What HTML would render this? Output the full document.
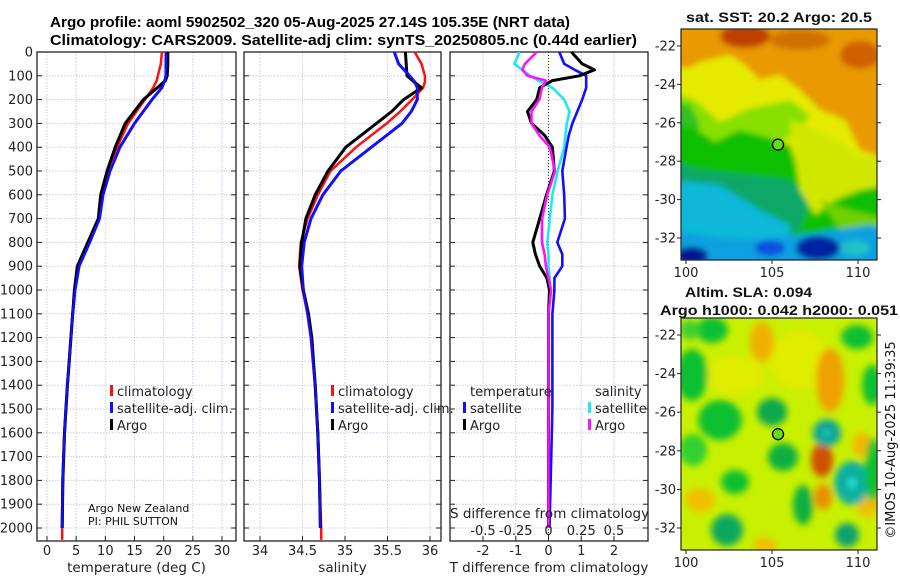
<!DOCTYPE html>
<html><head><meta charset="utf-8"><style>
html,body{margin:0;padding:0;background:#fff;width:900px;height:580px;overflow:hidden}
svg{display:block;font-family:"DejaVu Sans","Liberation Sans",sans-serif}
</style></head><body>
<svg id="fig" width="900" height="580" viewBox="0 0 900 580" xmlns="http://www.w3.org/2000/svg">
<defs>
<filter id="b3" x="-20%" y="-20%" width="140%" height="140%"><feGaussianBlur stdDeviation="3"/></filter>
<filter id="b4" x="-50%" y="-50%" width="200%" height="200%"><feGaussianBlur stdDeviation="3.5"/></filter>
<clipPath id="c1"><rect x="681" y="29" width="196" height="231"/></clipPath>
<clipPath id="c2"><rect x="681" y="318" width="196" height="232"/></clipPath>
</defs>
<g font-weight="bold" font-size="14.5" fill="#000" font-family="Liberation Sans, sans-serif">
<text x="50" y="27" textLength="520" lengthAdjust="spacingAndGlyphs">Argo profile: aoml 5902502_320 05-Aug-2025 27.14S 105.35E (NRT data)</text>
<text x="50" y="45" textLength="587" lengthAdjust="spacingAndGlyphs">Climatology: CARS2009. Satellite-adj clim: synTS_20250805.nc (0.44d earlier)</text>
</g>
<g id="panels"></g>
<g id="maps"></g>
</svg>
<script>
// ---- data ----
const depthT = [0,50,100,120,150,200,300,400,500,600,700,800,900,1000,1100,1200,1300,1400,1600,1800,2000];
const tempArgo = [20.7,20.7,20.6,20.3,18.9,16.5,13.4,11.7,10.3,9.2,8.8,7.0,5.2,4.7,4.4,4.1,3.8,3.5,3.0,2.7,2.6];
const tempClim = [19.7,19.5,19.0,18.8,18.2,16.8,13.9,12.0,10.5,9.3,8.9,7.1,5.4,4.7,4.4,4.1,3.8,3.5,3.0,2.7,2.6];
const tempSat  = [20.4,20.4,20.4,20.2,19.7,18.0,15.0,12.5,10.8,9.6,9.0,7.3,5.5,4.8,4.4,4.1,3.8,3.5,3.0,2.7,2.6];
const depthS = [0,50,100,125,150,200,250,300,400,500,600,700,800,900,1000,1100,1200,1400,1600,1800,2000];
const salArgo = [35.71,35.72,35.73,35.81,35.90,35.69,35.55,35.37,35.01,34.80,34.65,34.54,34.49,34.47,34.51,34.57,34.61,34.65,34.68,34.70,34.71];
const salClim = [35.82,35.90,35.94,35.94,35.92,35.79,35.65,35.49,35.13,34.83,34.68,34.56,34.48,34.46,34.50,34.56,34.60,34.65,34.68,34.70,34.72];
const salSat  = [35.58,35.63,35.76,35.82,35.85,35.85,35.78,35.67,35.31,34.95,34.74,34.60,34.52,34.49,34.51,34.56,34.60,34.65,34.68,34.70,34.71];
const depthD = [0,50,75,100,120,150,200,250,300,350,400,500,600,700,800,850,900,950,1000,1100,1200,1500,2000];
const dTArgo = [0.70,1.03,1.40,0.94,0.12,-0.27,-0.36,-0.64,-0.52,-0.12,0.12,0.18,-0.06,-0.27,-0.48,-0.40,-0.27,-0.05,0.03,0.0,0.0,0.0,0.0];
const dTSat  = [0.33,0.48,0.80,1.15,1.15,1.15,1.03,0.88,0.73,0.62,0.55,0.42,0.48,0.50,0.27,0.42,0.42,0.18,0.18,0.12,0.12,0.12,0.03];
const dSSat  = [-0.22,-0.26,-0.20,-0.14,-0.08,0.03,0.12,0.16,0.14,0.13,0.12,0.07,0.03,0.01,-0.01,0.0,0.0,0.01,0.01,0.0,0.0,0.0,0.0];
const dSArgo = [-0.09,-0.18,-0.20,-0.16,-0.02,-0.05,-0.07,-0.13,-0.13,-0.07,0.01,0.05,-0.01,-0.05,-0.05,-0.03,-0.02,0.0,0.02,0.0,0.0,0.0,0.0];
const depthTicks = [0,100,200,300,400,500,600,700,800,900,1000,1100,1200,1300,1400,1500,1600,1700,1800,1900,2000];
const tempTicks = [0,5,10,15,20,25,30];
const salTicks = [34,34.5,35,35.5,36];
const salTickLabels = ["34","34.5","35","35.5","36"];
const dTTicks = [-2,-1,0,1,2];
const dSTicks = [-0.5,-0.25,0,0.25,0.5];
const dSTickLabels = ["-0.5","-0.25","0","0.25","0.5"];

const NS="http://www.w3.org/2000/svg";
function mk(tag, attrs, parent){const e=document.createElementNS(NS,tag);for(const k in attrs)e.setAttribute(k,attrs[k]);parent.appendChild(e);return e;}
const Y0=52, YPER=0.238; const ybot=541;
const yS = d => Y0 + d*YPER;
const panelsG=document.getElementById('panels');

function panel(name, left, right, xs, ticks, tickLabels, xtitle, gridX){
  const g=mk('g',{},panelsG);
  
  
  for(const d of depthTicks){
    const l=mk('line',{x1:left,x2:right,y1:yS(d),y2:yS(d),stroke:'#c8cce8','stroke-width':1,'stroke-dasharray':'1.5,1.5'},g);
    
    
  }
  for(const t of gridX){
    const l=mk('line',{x1:xs(t),x2:xs(t),y1:Y0,y2:ybot,stroke:'#c8cce8','stroke-width':1,'stroke-dasharray':'1.5,1.5'},g);
    
    
  }
  const fr=mk('rect',{x:left,y:Y0,width:right-left,height:ybot-Y0,fill:'none',stroke:'#222','stroke-width':1.3},g);
  
  
  for(const d of depthTicks){
    mk('line',{x1:left,x2:left+5,y1:yS(d),y2:yS(d),stroke:'#222'},g);
    mk('line',{x1:right-5,x2:right,y1:yS(d),y2:yS(d),stroke:'#222'},g);
  }
  ticks.forEach((t,i)=>{
    mk('line',{x1:xs(t),x2:xs(t),y1:ybot,y2:ybot-5,stroke:'#222'},g);
    const tx=mk('text',{x:xs(t),y:555,'font-size':13,'text-anchor':'middle',fill:'#222'},g);
    tx.textContent=tickLabels[i];
    
    
  });
  const tt=mk('text',{x:(left+right)/2,y:572,'font-size':13.5,'text-anchor':'middle',fill:'#222'},g);
  tt.textContent=xtitle;
  
  
  return g;
}
function series(g, xs, depths, vals, color, name, w){
  const pts=vals.map((v,i)=>xs(v).toFixed(1)+','+yS(depths[i]).toFixed(1)).join(' ');
  const p=mk('polyline',{points:pts,fill:'none',stroke:color,'stroke-width':w||3,'stroke-linejoin':'round'},g);
  
  
}
function legend(g, x, y, color, label){
  const r=mk('rect',{x:x,y:y-11,width:3,height:11,fill:color},g);
  
  
  const t=mk('text',{x:x+7,y:y,'font-size':13,fill:'#222'},g);
  t.textContent=label;
  
  
}

// panel 1
const xT = t => 47 + t*(222-47)/30;
const g1=panel('temperature',37,236,xT,tempTicks,tempTicks.map(String),'temperature (deg C)',tempTicks);
depthTicks.forEach(d=>{
  const t=mk('text',{x:33,y:yS(d)+4.5,'font-size':13,'text-anchor':'end',fill:'#222'},g1);
  t.textContent=String(d);
  
  
});
series(g1,xT,depthT,tempSat,'#1010ff','temp-satellite-line');
series(g1,xT,depthT.concat([2050]),tempClim.concat([2.6]),'#ff1010','temp-climatology-line',2.5);
series(g1,xT,depthT,tempArgo,'#000','temp-argo-line',3);
series(g1,xT,depthT,tempSat,'#1010ff','temp-satellite-line-top',2.2);
legend(g1,110,396,'#ff1010','climatology');
legend(g1,110,413,'#1010ff','satellite-adj. clim.');
legend(g1,110,430,'#000','Argo');
const cr=mk('text',{x:88,y:512,'font-size':11,fill:'#111'},g1);cr.textContent='Argo New Zealand';

const pi=mk('text',{x:88,y:525,'font-size':11,fill:'#111'},g1);pi.textContent='PI: PHIL SUTTON';


// panel 2
const xSal = s => 260 + (s-34)*(430-260)/2;
const g2=panel('salinity',244,441,xSal,salTicks,salTickLabels,'salinity',salTicks);
series(g2,xSal,depthS,salSat,'#1010ff','sal-satellite-line');
series(g2,xSal,depthS.concat([2050]),salClim.concat([34.72]),'#ff1010','sal-climatology-line',2.5);
series(g2,xSal,depthS,salArgo,'#000','sal-argo-line',3);
series(g2,xSal,depthS,salSat,'#1010ff','sal-satellite-line-top',2.2);
legend(g2,331,396,'#ff1010','climatology');
legend(g2,331,413,'#1010ff','satellite-adj. clim.');
legend(g2,331,430,'#000','Argo');

// panel 3
const xdT = t => 548.5 + t*(614-483)/4;
const xdS = s => 548.5 + s*(614-483)/1;
const g3=panel('difference',450,648,xdT,dTTicks,dTTicks.map(String),'T difference from climatology',dTTicks);
mk('line',{x1:548.5,x2:548.5,y1:Y0,y2:ybot,stroke:'#333','stroke-width':1,'stroke-dasharray':'1,2'},g3);
series(g3,xdS,depthD,dSSat,'#20e8f0','dS-satellite-line',2.6);
series(g3,xdT,depthD,dTSat,'#1010ff','dT-satellite-line',2.6);
series(g3,xdT,depthD,dTArgo,'#000','dT-argo-line',3);
series(g3,xdS,depthD,dSArgo,'#ff10ff','dS-argo-line',2.6);
const lt=mk('text',{x:470,y:396,'font-size':13,fill:'#222'},g3);lt.textContent='temperature';

const ls=mk('text',{x:595,y:396,'font-size':13,fill:'#222'},g3);ls.textContent='salinity';

legend(g3,463,413,'#1010ff','satellite');
legend(g3,463,430,'#000','Argo');
legend(g3,588,413,'#20e8f0','satellite');
legend(g3,588,430,'#ff10ff','Argo');
const st=mk('text',{x:450,y:518,'font-size':13.5,fill:'#222'},g3);st.textContent='S difference from climatology';

dSTicks.forEach((s,i)=>{
  const t=mk('text',{x:xdS(s),y:535,'font-size':13,'text-anchor':'middle',fill:'#222'},g3);
  t.textContent=dSTickLabels[i];
  
  
});

// ---- maps ----
const mapsG=document.getElementById('maps');
const lonTicks=[100,105,110];
const latTicks=[-22,-24,-26,-28,-30,-32];
function mapAxes(name,top,bottom,latTop,latBot){
  const g=mk('g',{},mapsG);
  
  
  const xl = l => 686 + (l-100)*(858-686)/10;
  const yl = a => latTop + (a+22)*(latBot-latTop)/(-10);
  mk('rect',{x:681,y:top,width:196,height:bottom-top,fill:'none',stroke:'#222','stroke-width':1.2},g);
  lonTicks.forEach(l=>{
    mk('line',{x1:xl(l),x2:xl(l),y1:bottom,y2:bottom+4,stroke:'#222'},g);
    const t=mk('text',{x:xl(l),y:bottom+17,'font-size':13,'text-anchor':'middle',fill:'#222'},g);
    t.textContent=String(l);
    
    
  });
  latTicks.forEach(a=>{
    mk('line',{x1:681,x2:677,y1:yl(a),y2:yl(a),stroke:'#222'},g);
    mk('line',{x1:877,x2:881,y1:yl(a),y2:yl(a),stroke:'#222'},g);
    const t=mk('text',{x:676,y:yl(a)+4.5,'font-size':13,'text-anchor':'end',fill:'#222'},g);
    t.textContent=String(a);
    
    
  });
  const c=mk('circle',{cx:xl(105.35),cy:yl(-27.14),r:5.5,fill:'#66dd11',stroke:'#000','stroke-width':1.3},g);
  
  
}
// SST map fill
const sst=mk('g',{'clip-path':'url(#c1)'},mapsG);


const sstShapes=[
 ['rect',{x:670,y:20,width:220,height:250,fill:'#e6ea00'}],
 ['polygon',{points:'670,20 890,20 890,160 860,150 845,120 820,110 800,90 780,75 760,80 745,65 730,55 700,62 690,68 670,68',fill:'#e89a00'}],
 ['ellipse',{cx:745,cy:36,rx:25,ry:12,fill:'#c04000'}],
 ['ellipse',{cx:860,cy:55,rx:20,ry:14,fill:'#d06000'}],
 ['ellipse',{cx:800,cy:40,rx:30,ry:10,fill:'#d07000'}],
 ['polygon',{points:'670,92 695,100 720,122 750,108 790,100 810,115 800,130 785,140 770,150 700,150 670,150',fill:'#88e000'}],
 ['polygon',{points:'670,100 690,105 700,125 690,140 670,140',fill:'#30c020'}],
 ['polygon',{points:'670,125 695,128 715,142 740,130 770,138 790,145 800,175 830,180 870,170 890,165 890,270 670,270',fill:'#10c000'}],
 ['polygon',{points:'670,160 700,170 750,175 790,180 810,200 800,230 780,245 670,245',fill:'#10a868'}],
 ['polygon',{points:'670,180 720,185 760,210 790,225 790,250 670,250',fill:'#10b8d8'}],
 ['polygon',{points:'790,120 830,135 860,155 890,160 890,185 860,190 835,200 815,215 800,190 795,160',fill:'#d0e800'}],
 ['polygon',{points:'820,200 850,210 870,215 890,220 890,245 850,245',fill:'#70d000'}],
 ['polygon',{points:'670,230 720,238 760,240 820,232 870,225 890,230 890,270 670,270',fill:'#10a0e0'}],
 ['ellipse',{cx:692,cy:256,rx:16,ry:9,fill:'#001890'}],
 ['ellipse',{cx:818,cy:248,rx:22,ry:12,fill:'#0020a0'}],
 ['ellipse',{cx:770,cy:248,rx:15,ry:8,fill:'#1050e0'}],
 ['ellipse',{cx:855,cy:248,rx:15,ry:8,fill:'#20c0c8'}]
];
const sstInner=mk('g',{filter:'url(#b3)'},sst);
sstShapes.forEach(s=>mk(s[0],s[1],sstInner));
// SLA map fill
const sla=mk('g',{'clip-path':'url(#c2)'},mapsG);


mk('rect',{x:670,y:310,width:220,height:250,fill:'#c8f000'},sla);
const slaInner=mk('g',{filter:'url(#b4)'},sla);
const slaBlobs=[
 [735,375,30,20,'#e0ec00'],[800,360,30,30,'#e0ec00'],
 [762,342,12,20,'#f0b000'],[830,380,14,32,'#f0a000'],[822,460,11,17,'#d05000'],[823,497,9,13,'#e89000'],
 [700,500,15,12,'#f0c000'],[862,445,10,12,'#f0b800'],[765,545,12,8,'#f0c000'],[868,505,12,12,'#f0c000'],
 [712,330,16,13,'#10c030'],[692,375,16,26,'#10c030'],[720,420,22,20,'#10c030'],[772,412,15,14,'#10a850'],
 [783,457,15,14,'#10b040'],[803,505,10,20,'#10b040'],[735,482,14,12,'#10c030'],[727,530,16,16,'#10a860'],
 [827,433,14,14,'#10a898'],[852,483,18,22,'#10b0a0'],[872,385,10,20,'#10c030'],[857,337,16,12,'#10c030'],
 [847,535,12,12,'#10a070'],[873,470,8,32,'#10c030'],[693,450,14,16,'#30d030'],[690,330,10,10,'#40d030']
];
slaBlobs.forEach(b=>mk('ellipse',{cx:b[0],cy:b[1],rx:b[2],ry:b[3],fill:b[4]},slaInner));
mk('ellipse',{cx:852,cy:483,rx:5,ry:6,fill:'#20d8d0',filter:'url(#b3)'},sla);
mk('ellipse',{cx:827,cy:433,rx:4,ry:4,fill:'#20c0c0',filter:'url(#b3)'},sla);

mapAxes('sst-map',29,260,46,238);
mapAxes('sla-map',318,550,335,528);
function txt(x,y,s,label,opts){const t=mk('text',Object.assign({x:x,y:y,fill:'#111'},opts||{}),mapsG);t.textContent=label;
  return t;}
txt(686,22,'sst-map-title','sat. SST: 20.2 Argo: 20.5',{'font-size':14,'font-weight':'bold','font-family':'Liberation Sans, sans-serif',textLength:186,lengthAdjust:'spacingAndGlyphs'});
txt(685,297,'sla-map-title','Altim. SLA: 0.094',{'font-size':14,'font-weight':'bold','font-family':'Liberation Sans, sans-serif',textLength:127,lengthAdjust:'spacingAndGlyphs'});
txt(660,315,'sla-map-subtitle','Argo h1000: 0.042 h2000: 0.051',{'font-size':14,'font-weight':'bold','font-family':'Liberation Sans, sans-serif',textLength:238,lengthAdjust:'spacingAndGlyphs'});
txt(895,440,'imos-timestamp','©IMOS 10-Aug-2025 11:39:35',{'font-size':13,'text-anchor':'middle',transform:'rotate(-90 895 440)'});
</script>
</body></html>
